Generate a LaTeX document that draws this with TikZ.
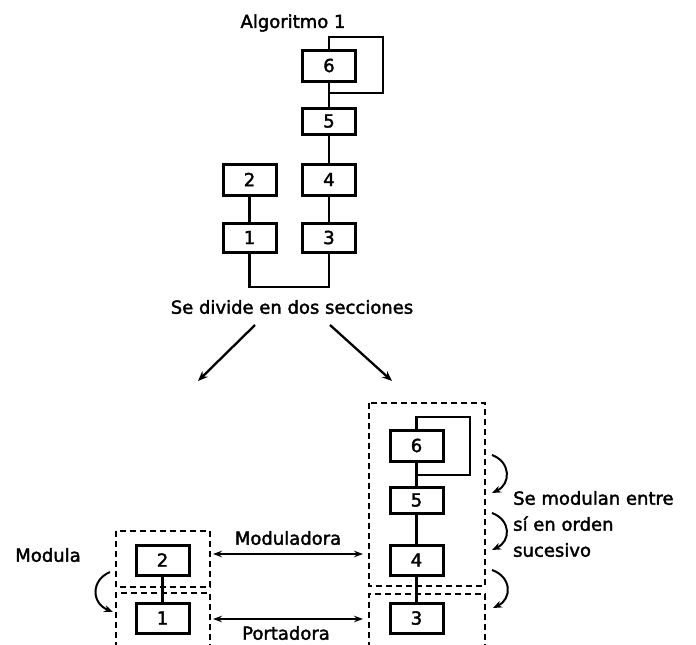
\documentclass[tikz,border=0pt]{standalone}
\usepackage{fontspec}
\newfontfamily\lblfont{DejaVu Sans}[FakeBold=2]
\usetikzlibrary{arrows.meta}
\begin{document}
\begin{tikzpicture}[x=1pt,y=-1pt,
  txt/.style={font=\lblfont\fontsize{18}{26}\selectfont, inner sep=0pt},
  blk/.style={draw, line width=3pt, minimum width=53pt, inner sep=0pt,
    font=\lblfont\fontsize{18}{20}\selectfont},
  wire/.style={line width=2.5pt},
  dashbox/.style={line width=1.3pt, dash pattern=on 6pt off 4pt},
  arr/.style={line width=2.3pt, -{Stealth[length=10pt,width=8pt]}},
  dbl/.style={line width=1.9pt, {Stealth[length=9pt,width=6.5pt]}-{Stealth[length=9pt,width=6.5pt]}},
  curvarr/.style={line width=2pt, -{Stealth[length=9pt,width=7pt]}}]
\useasboundingbox (0,0) rectangle (696,645);

% ---- original algorithm ----
\node[txt] (title) at (293,23) {Algoritmo 1};
\node[blk, minimum height=31pt] (a6) at (329,65.5) {6};
\node[blk, minimum height=26pt] (a5) at (329,121) {5};
\node[blk, minimum height=31pt] (a4) at (329,179.5) {4};
\node[blk, minimum height=29pt] (a3) at (329,237.5) {3};
\node[blk, minimum height=31pt] (a2) at (249.5,179.5) {2};
\node[blk, minimum height=29pt] (a1) at (249.5,237.5) {1};

\draw[wire] (a6) -- (a5);
\draw[wire] (a5) -- (a4);
\draw[wire] (a4) -- (a3);
\draw[wire] (a2) -- (a1);
\coordinate (aloopT) at (383,37);
\coordinate (aloopB) at (329,93);
\draw[wire] (a6.north) |- (aloopT) |- (aloopB);
\coordinate (abase) at (329,287);
\draw[wire] (a1.south) |- (abase) -- (a3.south);

% ---- split ----
\node[txt] (split) at (292,307) {Se divide en dos secciones};
\coordinate (sl0) at (255,325);
\coordinate (sl1) at (198,381);
\coordinate (sr0) at (330,325);
\coordinate (sr1) at (392,381);
\draw[arr] (sl0) -- (sl1);
\draw[arr] (sr0) -- (sr1);

% ---- dashed groups ----
\draw[dashbox] (116,531) rectangle (210,587);
\draw[dashbox] (116,648) -- (116,593) -- (210,593) -- (210,648);
\draw[dashbox] (369,403) rectangle (485,586);
\draw[dashbox] (369,648) -- (369,594) -- (485,594) -- (485,648);

% ---- split algorithm ----
\node[blk, minimum height=31pt] (b6) at (416.5,445.5) {6};
\node[blk, minimum height=26pt] (b5) at (416.5,500) {5};
\node[blk, minimum height=30pt] (b4) at (416.5,560) {4};
\node[blk, minimum height=30pt] (b3) at (416.5,618) {3};
\node[blk, minimum height=30pt] (b2) at (162.5,560) {2};
\node[blk, minimum height=30pt] (b1) at (162.5,618) {1};

\draw[wire] (b6) -- (b5);
\draw[wire] (b5) -- (b4);
\draw[wire] (b4) -- (b3);
\draw[wire] (b2) -- (b1);
\coordinate (bloopT) at (470,417);
\coordinate (bloopB) at (416.5,475);
\draw[wire] (b6.north) |- (bloopT) |- (bloopB);

% ---- links between sections ----
\coordinate (mL) at (213,554);
\coordinate (mR) at (363,554);
\coordinate (pL) at (213,619);
\coordinate (pR) at (363,619);
\draw[dbl] (mL) -- (mR);
\draw[dbl] (pL) -- (pR);
\node[txt] (mod) at (288,538) {Moduladora};
\node[txt] (por) at (286,633) {Portadora};

% ---- modulation order ----
\node[txt] (modula) at (48,555) {Modula};
\coordinate (c0) at (110,572);
\coordinate (c1) at (113,612);
\draw[curvarr] (c0) .. controls (91,580) and (91,603) .. (c1);

\coordinate (r0a) at (492,455);
\coordinate (r0b) at (492,493);
\coordinate (r1a) at (492,513);
\coordinate (r1b) at (492,550);
\coordinate (r2a) at (492,570);
\coordinate (r2b) at (493,608);
\draw[curvarr] (r0a) .. controls (511,462) and (511,484) .. (r0b);
\draw[curvarr] (r1a) .. controls (511,520) and (511,541) .. (r1b);
\draw[curvarr] (r2a) .. controls (512,577) and (512,599) .. (r2b);
\node[txt, anchor=west, align=left] (seq) at (513,524)
  {Se modulan entre\\ sí en orden\\ sucesivo};
\end{tikzpicture}
\end{document}
